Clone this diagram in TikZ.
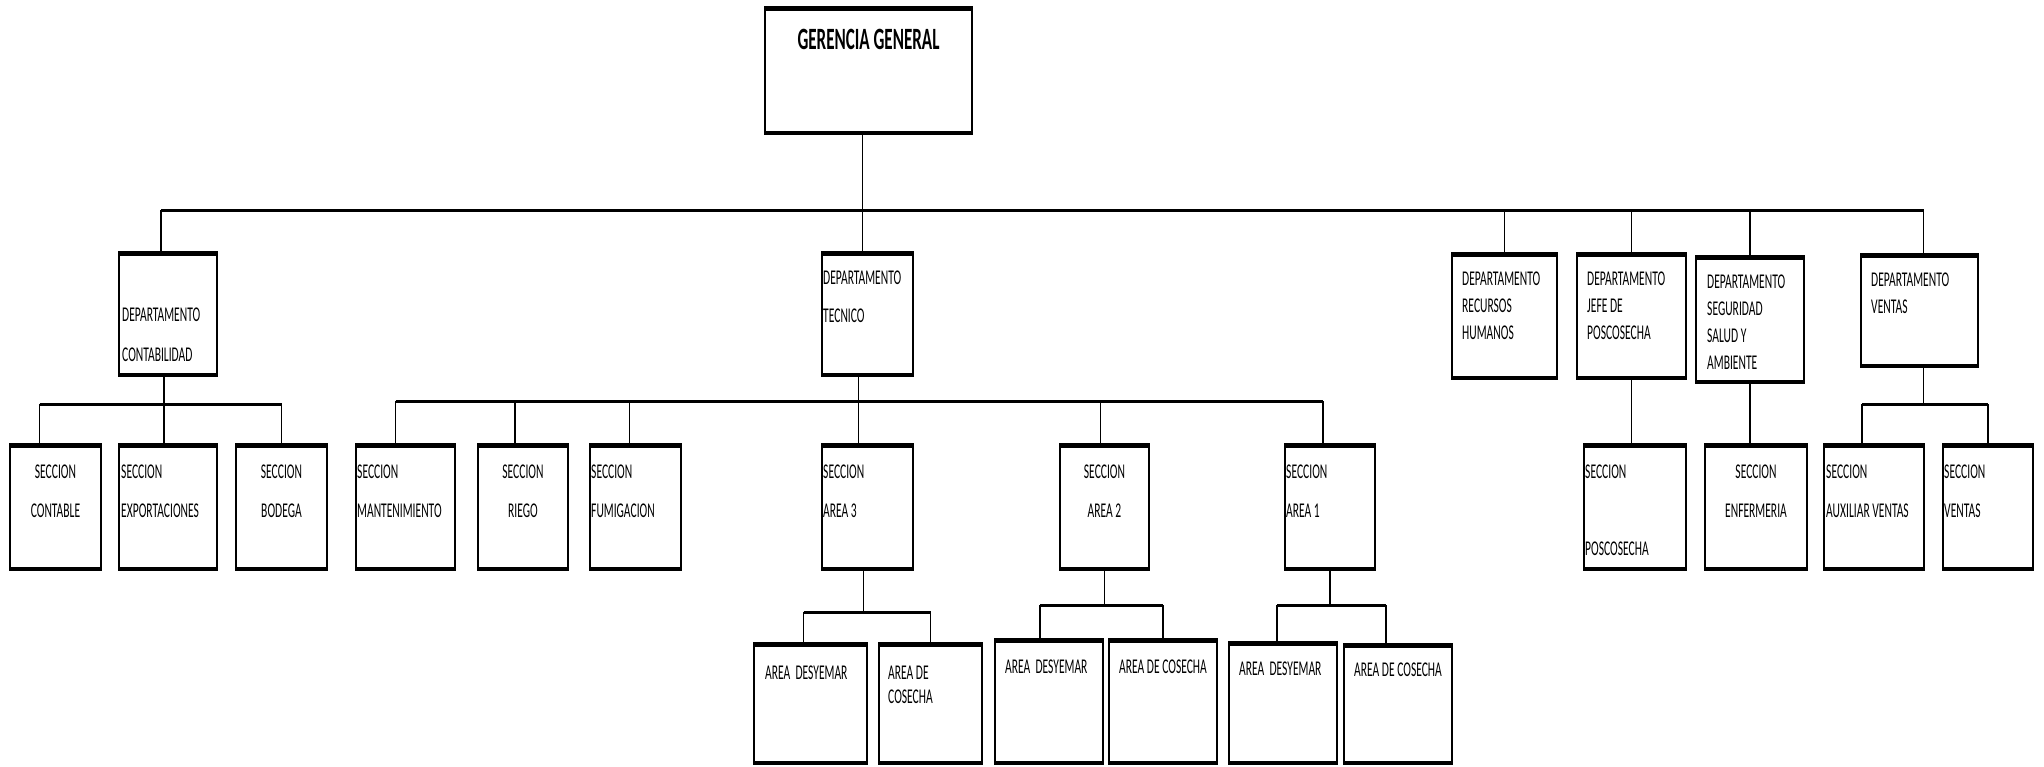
\documentclass[tikz,border=0pt]{standalone}
\usepackage{fontspec}
\setmainfont{Carlito}[FakeStretch=0.55]
\usetikzlibrary{positioning}
\tikzset{
  box/.style={draw, line width=2.6pt, inner sep=0pt, outer sep=0pt, anchor=north west,
    path picture={
      \fill (path picture bounding box.north west) rectangle ([yshift=-3.5pt]path picture bounding box.north east);
      \fill (path picture bounding box.south west) rectangle ([yshift=3.5pt]path picture bounding box.south east);}},
  txt/.style={inner sep=0pt, align=left, font=\fontsize{21}{27}\selectfont},
  ctxt/.style={inner sep=0pt, align=center, font=\fontsize{21}{27}\selectfont},
  gtxt/.style={inner sep=0pt, align=center, font=\fontsize{31}{36}\selectfont\bfseries},
  link/.style={line width=1.3pt},
  bus/.style={line width=3pt},
}
\begin{document}
\begin{tikzpicture}[x=1pt, y=-1pt]
\useasboundingbox (0,0) rectangle (2044,766);

\node[box, minimum width=207pt, minimum height=127pt] (gg) at (765,7) {};

\node[box, minimum width=98pt, minimum height=124pt] (dcont) at (119,252) {};
\node[box, minimum width=91pt, minimum height=124pt] (dtec) at (822,252) {};
\node[box, minimum width=105pt, minimum height=126pt] (drrhh) at (1452,253) {};
\node[box, minimum width=109pt, minimum height=126pt] (dpos) at (1577,253) {};
\node[box, minimum width=108pt, minimum height=127pt] (dseg) at (1696,256) {};
\node[box, minimum width=117pt, minimum height=113pt] (dven) at (1861,254) {};

\node[box, minimum width=91pt, minimum height=126pt] (scont) at (10,444) {};
\node[box, minimum width=98pt, minimum height=126pt] (sexp) at (119,444) {};
\node[box, minimum width=91pt, minimum height=126pt] (sbod) at (236,444) {};
\node[box, minimum width=99pt, minimum height=126pt] (smant) at (356,444) {};
\node[box, minimum width=90pt, minimum height=126pt] (sriego) at (478,444) {};
\node[box, minimum width=91pt, minimum height=126pt] (sfum) at (590,444) {};
\node[box, minimum width=91pt, minimum height=126pt] (sa3) at (822,444) {};
\node[box, minimum width=89pt, minimum height=126pt] (sa2) at (1060,444) {};
\node[box, minimum width=90pt, minimum height=126pt] (sa1) at (1285,444) {};
\node[box, minimum width=102pt, minimum height=126pt] (spos) at (1584,444) {};
\node[box, minimum width=102pt, minimum height=126pt] (senf) at (1705,444) {};
\node[box, minimum width=100pt, minimum height=126pt] (saux) at (1824,444) {};
\node[box, minimum width=90pt, minimum height=126pt] (sven) at (1943,444) {};

\node[box, minimum width=113pt, minimum height=121pt] (a3d) at (754,643) {};
\node[box, minimum width=103pt, minimum height=121pt] (a3c) at (879,643) {};
\node[box, minimum width=108pt, minimum height=125pt] (a2d) at (995,639) {};
\node[box, minimum width=108pt, minimum height=125pt] (a2c) at (1109,639) {};
\node[box, minimum width=108pt, minimum height=122pt] (a1d) at (1229,642) {};
\node[box, minimum width=108pt, minimum height=120pt] (a1c) at (1344,644) {};

\node[gtxt, below=22pt of gg.north] (ggt) {GERENCIA GENERAL};

\node[txt, below right=56pt and 3pt of dcont.north west] (dcontt) {DEPARTAMENTO\\[13pt]CONTABILIDAD};
\node[txt, below right=19pt and 1pt of dtec.north west] (dtect) {DEPARTAMENTO\\[11pt]TECNICO};
\node[txt, below right=19pt and 10pt of drrhh.north west] (drrhht) {DEPARTAMENTO\\RECURSOS\\HUMANOS};
\node[txt, below right=19pt and 10pt of dpos.north west] (dpost) {DEPARTAMENTO\\JEFE DE\\POSCOSECHA};
\node[txt, below right=19pt and 11pt of dseg.north west] (dsegt) {DEPARTAMENTO\\SEGURIDAD\\SALUD Y\\AMBIENTE};
\node[txt, below right=19pt and 10pt of dven.north west] (dvent) {DEPARTAMENTO\\VENTAS};

\node[ctxt, below=21pt of scont.north] (scontt) {SECCION\\[12pt]CONTABLE};
\node[txt, below right=21pt and 2pt of sexp.north west] (sexpt) {SECCION\\[12pt]EXPORTACIONES};
\node[ctxt, below=21pt of sbod.north] (sbodt) {SECCION\\[12pt]BODEGA};
\node[txt, below right=21pt and 1pt of smant.north west] (smantt) {SECCION\\[12pt]MANTENIMIENTO};
\node[ctxt, below=21pt of sriego.north] (sriegot) {SECCION\\[12pt]RIEGO};
\node[txt, below right=21pt and 1pt of sfum.north west] (sfumt) {SECCION\\[12pt]FUMIGACION};
\node[txt, below right=21pt and 1pt of sa3.north west] (sa3t) {SECCION\\[12pt]AREA 3};
\node[ctxt, below=21pt of sa2.north] (sa2t) {SECCION\\[12pt]AREA 2};
\node[txt, below right=21pt and 1pt of sa1.north west] (sa1t) {SECCION\\[12pt]AREA 1};
\node[txt, below right=21pt and 1pt of spos.north west] (spost) {SECCION\\[50pt]POSCOSECHA};
\node[ctxt, below=21pt of senf.north] (senft) {SECCION\\[12pt]ENFERMERIA};
\node[txt, below right=21pt and 2pt of saux.north west] (sauxt) {SECCION\\[12pt]AUXILIAR VENTAS};
\node[txt, below right=21pt and 1pt of sven.north west] (svent) {SECCION\\[12pt]VENTAS};

\node[txt, below right=23pt and 11pt of a3d.north west] (a3dt) {AREA\ \ DESYEMAR};
\node[txt, below right=23pt and 9pt of a3c.north west] (a3ct) {AREA DE\\[-3pt]COSECHA};
\node[txt, below right=21pt and 10pt of a2d.north west] (a2dt) {AREA\ \ DESYEMAR};
\node[ctxt, below=21pt of a2c.north] (a2ct) {AREA DE COSECHA};
\node[txt, below right=20pt and 10pt of a1d.north west] (a1dt) {AREA\ \ DESYEMAR};
\node[ctxt, below=19pt of a1c.north] (a1ct) {AREA DE COSECHA};

\coordinate (mainbus) at (0,210);
\coordinate (contbus) at (0,404);
\coordinate (tecbus) at (0,401);
\coordinate (a3bus) at (0,612);
\coordinate (a2bus) at (0,605);
\coordinate (a1bus) at (0,605);
\coordinate (venbus) at (0,404);

\draw[bus] ([xshift=-7pt]dcont.north |- mainbus) -- ([xshift=4pt]dven.north |- mainbus);
\draw[link] ([xshift=-6pt]gg.south) -- ([xshift=-6pt]gg.south |- dtec.north);
\draw[link] ([xshift=-7pt]dcont.north |- mainbus) -- ([xshift=-7pt]dcont.north);
\draw[link] ([xshift=4pt]dven.north |- mainbus) -- ([xshift=4pt]dven.north);
\foreach \d in {drrhh,dpos,dseg}
  \draw[link] (\d.north |- mainbus) -- (\d.north);

\draw[bus] ([xshift=-16pt]scont.north |- contbus) -- (sbod.north |- contbus);
\draw[link] ([xshift=-4pt]dcont.south) -- ([xshift=-4pt]dcont.south |- sexp.north);
\draw[link] ([xshift=-16pt]scont.north |- contbus) -- ([xshift=-16pt]scont.north);
\draw[link] (sbod.north |- contbus) -- (sbod.north);

\draw[bus] ([xshift=-10pt]smant.north |- tecbus) -- ([xshift=-7pt]sa1.north |- tecbus);
\draw[link] ([xshift=-9pt]dtec.south) -- ([xshift=-9pt]dtec.south |- sa3.north);
\draw[link] ([xshift=-10pt]smant.north |- tecbus) -- ([xshift=-10pt]smant.north);
\draw[link] ([xshift=-8pt]sriego.north |- tecbus) -- ([xshift=-8pt]sriego.north);
\draw[link] ([xshift=-6pt]sfum.north |- tecbus) -- ([xshift=-6pt]sfum.north);
\draw[link] ([xshift=-4pt]sa2.north |- tecbus) -- ([xshift=-4pt]sa2.north);
\draw[link] ([xshift=-7pt]sa1.north |- tecbus) -- ([xshift=-7pt]sa1.north);

\draw[link] ([xshift=-4pt]sa3.south) -- ([xshift=-4pt]sa3.south |- a3bus);
\draw[bus] ([xshift=-7pt]a3d.north |- a3bus) -- (a3c.north |- a3bus);
\draw[link] ([xshift=-7pt]a3d.north |- a3bus) -- ([xshift=-7pt]a3d.north);
\draw[link] (a3c.north |- a3bus) -- (a3c.north);

\draw[link] (sa2.south) -- (sa2.south |- a2bus);
\draw[bus] ([xshift=-9pt]a2d.north |- a2bus) -- (a2c.north |- a2bus);
\draw[link] ([xshift=-9pt]a2d.north |- a2bus) -- ([xshift=-9pt]a2d.north);
\draw[link] (a2c.north |- a2bus) -- (a2c.north);

\draw[link] (sa1.south) -- (sa1.south |- a1bus);
\draw[bus] ([xshift=-6pt]a1d.north |- a1bus) -- ([xshift=-12pt]a1c.north |- a1bus);
\draw[link] ([xshift=-6pt]a1d.north |- a1bus) -- ([xshift=-6pt]a1d.north);
\draw[link] ([xshift=-12pt]a1c.north |- a1bus) -- ([xshift=-12pt]a1c.north);

\draw[link] (dpos.south) -- (dpos.south |- spos.north);
\draw[link] (dseg.south) -- (dseg.south |- senf.north);

\draw[link] ([xshift=4pt]dven.south) -- ([xshift=4pt]dven.south |- venbus);
\draw[bus] ([xshift=-12pt]saux.north |- venbus) -- (sven.north |- venbus);
\draw[link] ([xshift=-12pt]saux.north |- venbus) -- ([xshift=-12pt]saux.north);
\draw[link] (sven.north |- venbus) -- (sven.north);

\end{tikzpicture}
\end{document}
